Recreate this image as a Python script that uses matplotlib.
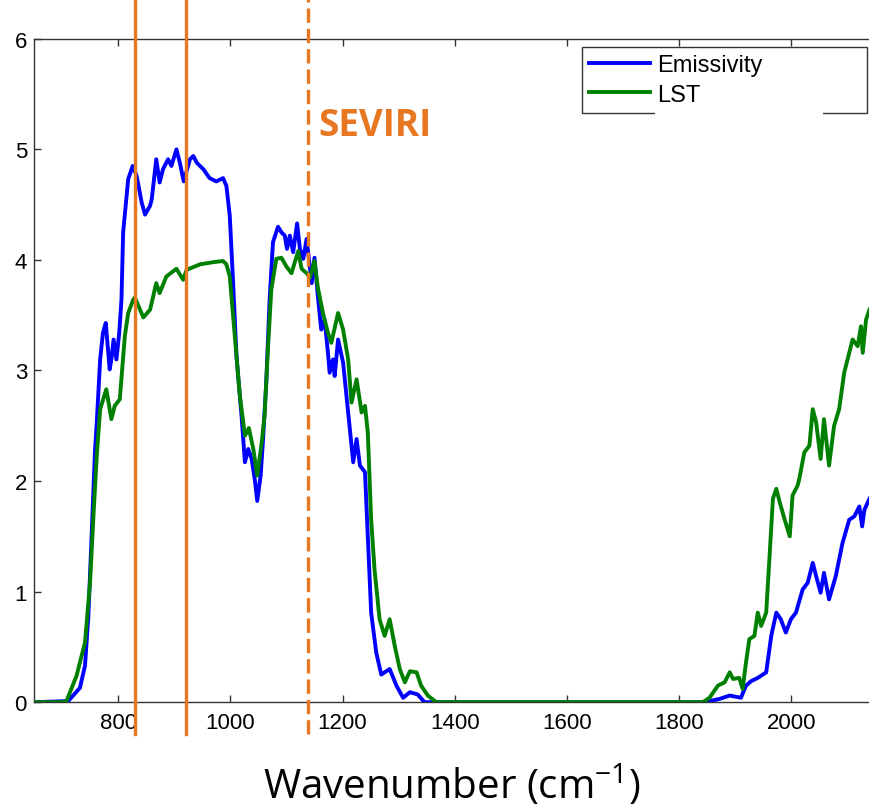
import matplotlib
matplotlib.use("Agg")
import matplotlib.pyplot as plt
from matplotlib.patches import Rectangle

# ----------------------------------------
# DATA
# ----------------------------------------
emis_x = [650, 711, 732, 741, 747, 753, 759, 762, 768, 773,
          778, 785, 788, 792, 797, 802, 806, 809, 818, 826,
          833, 842, 848, 857, 860, 868, 874, 880, 889, 895,
          904, 910, 917, 928, 934, 940, 952, 963, 975, 987,
          993, 999, 1005, 1011, 1020, 1026, 1032, 1038, 1044, 1048,
          1054, 1058, 1064, 1070, 1076, 1085, 1091, 1097, 1101, 1106,
          1112, 1119, 1124, 1130, 1136, 1145, 1150, 1156, 1162, 1168,
          1174, 1177, 1183, 1186, 1192, 1201, 1210, 1219, 1225, 1231,
          1240, 1245, 1251, 1260, 1269, 1278, 1284, 1296, 1308, 1320,
          1334, 1346, 1845, 1872, 1890, 1910, 1919, 1928, 1940, 1955,
          1964, 1973, 1981, 1990, 1999, 2008, 2020, 2029, 2038, 2044,
          2052, 2058, 2067, 2079, 2091, 2103, 2112, 2121, 2126, 2130,
          2139]
emis_y = [0, 0.01, 0.13, 0.33, 0.78, 1.53, 2.29, 2.53, 3.10, 3.34,
          3.43, 3.01, 3.10, 3.28, 3.10, 3.34, 3.64, 4.25, 4.73, 4.85,
          4.76, 4.52, 4.41, 4.49, 4.55, 4.91, 4.70, 4.82, 4.91, 4.85,
          5.00, 4.88, 4.71, 4.91, 4.94, 4.88, 4.82, 4.74, 4.71, 4.74,
          4.67, 4.40, 3.79, 3.13, 2.59, 2.17, 2.29, 2.20, 2.00, 1.82,
          2.05, 2.35, 2.89, 3.64, 4.16, 4.30, 4.25, 4.22, 4.10, 4.22,
          4.07, 4.33, 4.10, 4.01, 4.19, 3.79, 4.02, 3.67, 3.37, 3.46,
          3.16, 2.98, 3.10, 2.95, 3.28, 3.07, 2.62, 2.17, 2.38, 2.14,
          2.08, 1.50, 0.81, 0.45, 0.25, 0.28, 0.30, 0.15, 0.04, 0.09,
          0.07, 0.0, 0.0, 0.03, 0.06, 0.04, 0.15, 0.19, 0.22, 0.27,
          0.60, 0.81, 0.75, 0.63, 0.75, 0.81, 1.02, 1.08, 1.26, 1.14,
          0.99, 1.17, 0.93, 1.14, 1.44, 1.65, 1.68, 1.77, 1.59, 1.74,
          1.84]

lst_x = [650, 702, 708, 726, 741, 750, 756, 762, 768, 779,
         788, 794, 803, 812, 818, 827, 830, 845, 857, 868,
         874, 886, 904, 916, 922, 946, 970, 987, 993, 999,
         1005, 1011, 1017, 1026, 1033, 1041, 1048, 1056, 1061, 1067,
         1073, 1082, 1091, 1100, 1109, 1121, 1127, 1136, 1142, 1150,
         1156, 1165, 1174, 1180, 1192, 1201, 1210, 1216, 1225, 1234,
         1240, 1245, 1251, 1257, 1266, 1275, 1284, 1293, 1302, 1311,
         1320, 1332, 1340, 1352, 1367, 1842, 1854, 1869, 1881, 1890,
         1896, 1907, 1913, 1919, 1925, 1934, 1940, 1946, 1955, 1961,
         1967, 1973, 1979, 1988, 1997, 2002, 2011, 2014, 2023, 2032,
         2038, 2044, 2052, 2058, 2067, 2076, 2085, 2094, 2103, 2109,
         2118, 2124, 2127, 2133, 2139]
lst_y = [0, 0, 0.01, 0.24, 0.54, 1.08, 1.68, 2.23, 2.65, 2.83,
         2.56, 2.68, 2.74, 3.31, 3.52, 3.64, 3.66, 3.48, 3.55, 3.79,
         3.70, 3.85, 3.92, 3.82, 3.91, 3.96, 3.98, 3.99, 3.96, 3.85,
         3.49, 3.13, 2.77, 2.41, 2.48, 2.29, 2.05, 2.35, 2.59, 3.19,
         3.73, 4.01, 4.02, 3.94, 3.88, 4.08, 3.92, 3.88, 3.84, 3.99,
         3.75, 3.52, 3.34, 3.25, 3.52, 3.37, 3.10, 2.71, 2.92, 2.62,
         2.68, 2.44, 1.65, 1.20, 0.75, 0.60, 0.75, 0.51, 0.30, 0.18,
         0.28, 0.27, 0.15, 0.06, 0.0, 0.0, 0.04, 0.15, 0.18, 0.27,
         0.21, 0.22, 0.12, 0.36, 0.57, 0.60, 0.81, 0.69, 0.81, 1.32,
         1.84, 1.93, 1.81, 1.65, 1.50, 1.87, 1.96, 2.02, 2.26, 2.32,
         2.65, 2.53, 2.20, 2.56, 2.14, 2.50, 2.65, 2.98, 3.16, 3.28,
         3.22, 3.40, 3.16, 3.46, 3.55]

channels_solid = [830, 921]
channel_dashed = 1138

x_ticks = [800, 1000, 1200, 1400, 1600, 1800, 2000]
y_ticks = [0, 1, 2, 3, 4, 5, 6]

ORANGE = "#E87722"

# ----------------------------------------
# FIGURE
# ----------------------------------------
plt.rcParams["font.family"] = ["Liberation Sans", "DejaVu Sans"]
plt.rcParams["mathtext.fontset"] = "custom"
plt.rcParams["mathtext.rm"] = "Open Sans"

fig = plt.figure(figsize=(8.7, 8.12), dpi=100)
ax = fig.add_axes([0.039, 0.134, 0.961, 0.817])

ax.plot(emis_x, emis_y, color="#0000FF", lw=2.8, label="Emissivity", zorder=3)
ax.plot(lst_x, lst_y, color="#008000", lw=2.8, label="LST", zorder=3)

for xc in channels_solid:
    ax.axvline(xc, ymin=-0.048, ymax=1.07, color=ORANGE, lw=2.4,
               clip_on=False, zorder=5)
ax.axvline(channel_dashed, ymin=-0.048, ymax=1.07, color=ORANGE, lw=2.4,
           dashes=(4.3, 1.8), clip_on=False, zorder=5)

ax.text(1157, 5.22, "SEVIRI", color=ORANGE, fontsize=26.5, fontweight="bold",
        family="Open Sans", va="center", ha="left")

ax.set_xlim(650, 2140)
ax.set_ylim(0, 6)
ax.set_xticks(x_ticks)
ax.set_yticks(y_ticks)

for side in ["left", "top", "bottom"]:
    ax.spines[side].set_color("#333333")
    ax.spines[side].set_linewidth(1.0)
ax.spines["right"].set_visible(False)

ax.tick_params(direction="in", length=5, width=1, color="#333333",
               labelsize=16, top=True, right=False, pad=5)
ax.tick_params(axis="x", pad=7)

ax.set_xlabel(r"Wavenumber (cm$^{\mathrm{-1}}$)", family="Open Sans",
              fontsize=29)
ax.xaxis.set_label_coords(0.5, -0.09)

leg = ax.legend(loc="upper left", bbox_to_anchor=(0.655, 0.892, 0.341, 0.095),
                mode="expand", fontsize=17, frameon=True, fancybox=False,
                framealpha=1, edgecolor="#333333", handlelength=2.6,
                handletextpad=0.3, labelspacing=0.3, borderpad=0.3,
                borderaxespad=0)
leg.get_frame().set_linewidth(1.0)

# white patch over part of the legend's lower border, as in the source image
fig.canvas.draw()
lb = leg.get_window_extent()
fig.patches.append(Rectangle((655, lb.y0 - 4), 168, 8, transform=None,
                             facecolor="white", edgecolor="none", zorder=10))

fig.savefig("out.png", dpi=100)
